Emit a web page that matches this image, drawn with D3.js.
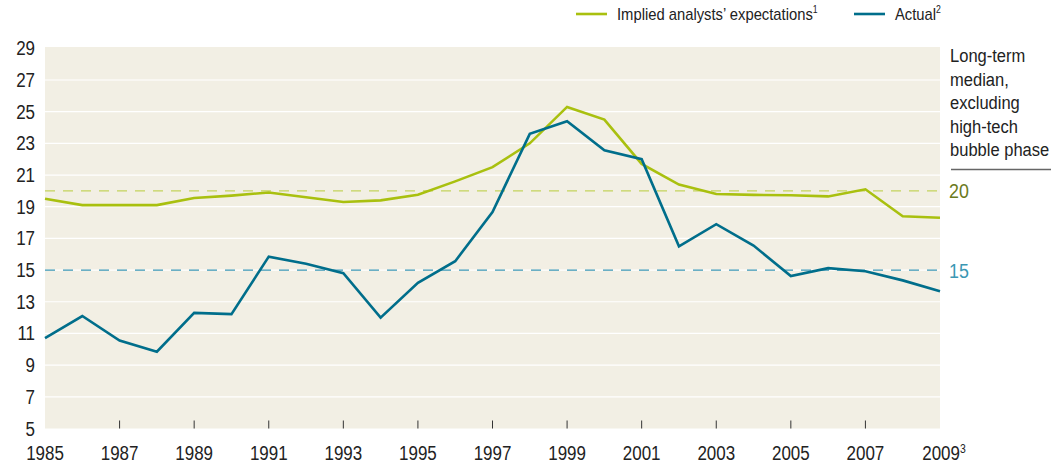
<!DOCTYPE html>
<html><head><meta charset="utf-8">
<script src="https://cdn.jsdelivr.net/npm/d3@7"></script>
<style>
body{margin:0;background:#fff;}
text{font-family:"Liberation Sans","Arial",sans-serif;}
</style></head>
<body><svg id="c" width="1063" height="463"></svg>
<script>
const years = d3.range(1985, 2010);
const implied = [19.5,19.1,19.1,19.1,19.55,19.7,19.9,19.6,19.3,19.4,19.75,20.6,21.5,23.0,25.3,24.5,21.7,20.4,19.8,19.75,19.72,19.65,20.1,18.4,18.3];
const actual = [10.7,12.1,10.55,9.85,12.3,12.22,15.85,15.4,14.8,12.0,14.2,15.56,18.66,23.6,24.4,22.56,22.0,16.5,17.9,16.55,14.62,15.12,14.93,14.35,13.67];
const yTicks = [5,7,9,11,13,15,17,19,21,23,25,27,29];
const xTicks = [1985,1987,1989,1991,1993,1995,1997,1999,2001,2003,2005,2007,2009];
const medians = [{v:20,label:"20"},{v:15,label:"15"}];
const noteLines = ["Long-term","median,","excluding","high-tech","bubble phase"];

const svg = d3.select("#c");
const L=45, R=940, T=47, B=428.5;
const x = d3.scaleLinear().domain([1985,2009]).range([L,R]);
const y = d3.scaleLinear().domain([5,29]).range([B,T+1.3]);
const green="#a9c00f", blue="#006e8b";
const SX=0.87;
function ctext(g, px, py, size, anchor){
  return g.append("text").attr("transform",`translate(${px},${py}) scale(${SX},1)`)
    .attr("font-size",size).attr("text-anchor",anchor||"start");
}

svg.append("rect").attr("x",L).attr("y",T).attr("width",R-L).attr("height",B-T).attr("fill","#f2efe4");
svg.append("g").selectAll("line").data(yTicks.filter(d=>d>5&&d<29)).join("line")
  .attr("x1",L).attr("x2",R).attr("y1",d=>y(d)).attr("y2",d=>y(d)).attr("stroke","#fff").attr("stroke-width",1.2);

// x ticks
svg.append("g").selectAll("line").data(xTicks.filter(d=>d>1985&&d<2009)).join("line")
  .attr("x1",d=>x(d)).attr("x2",d=>x(d)).attr("y1",B-8).attr("y2",B).attr("stroke","#333").attr("stroke-width",1);

// y labels
const yg = svg.append("g");
yTicks.forEach(d=>{ ctext(yg,35,y(d)+7,19.5,"end").attr("fill","#222").text(d); });
// x labels
const xg = svg.append("g");
xTicks.forEach(d=>{
  const t = ctext(xg,x(d),460,19.5,"middle").attr("fill","#222").text(d);
  if(d===2009){ t.append("tspan").attr("font-size",12).attr("dy",-7).text("3"); t.attr("transform",`translate(${x(d)+4},460) scale(${SX},1)`); }
});

// median dashed lines
svg.append("line").attr("x1",L).attr("x2",R).attr("y1",y(medians[0].v)).attr("y2",y(medians[0].v)).attr("stroke","#c4d45c").attr("stroke-width",1.2).attr("stroke-dasharray","10,8");
svg.append("line").attr("x1",L).attr("x2",R).attr("y1",y(medians[1].v)).attr("y2",y(medians[1].v)).attr("stroke","#3b97b3").attr("stroke-width",1.2).attr("stroke-dasharray","10,8");

const line = d3.line().x((d,i)=>x(years[i])).y(d=>y(d));
svg.append("path").datum(implied).attr("d",line).attr("fill","none").attr("stroke",green).attr("stroke-width",2.6);
svg.append("path").datum(actual).attr("d",line).attr("fill","none").attr("stroke",blue).attr("stroke-width",2.6);

// right labels
const rg = svg.append("g");
ctext(rg,949,y(medians[0].v)+7.5,20.5).attr("fill","#6b7a1c").text(medians[0].label);
ctext(rg,949,y(medians[1].v)+7.5,20.5).attr("fill","#3b97b3").text(medians[1].label);
noteLines.forEach((d,i)=>{ ctext(rg,950,62+i*23.6,19).attr("fill","#222").text(d); });
svg.append("line").attr("x1",951).attr("x2",1051).attr("y1",169.5).attr("y2",169.5).attr("stroke","#666").attr("stroke-width",1.3);

// legend
svg.append("line").attr("x1",576).attr("x2",607).attr("y1",14).attr("y2",14).attr("stroke",green).attr("stroke-width",2.6);
const t1=ctext(svg,617,20,17).attr("fill","#222").text("Implied analysts’ expectations");
t1.append("tspan").attr("font-size",10).attr("dy",-7).text("1");
svg.append("line").attr("x1",854).attr("x2",885).attr("y1",14).attr("y2",14).attr("stroke",blue).attr("stroke-width",2.6);
const t2=ctext(svg,895,20,17).attr("fill","#222").text("Actual");
t2.append("tspan").attr("font-size",10).attr("dy",-7).text("2");
</script></body></html>
